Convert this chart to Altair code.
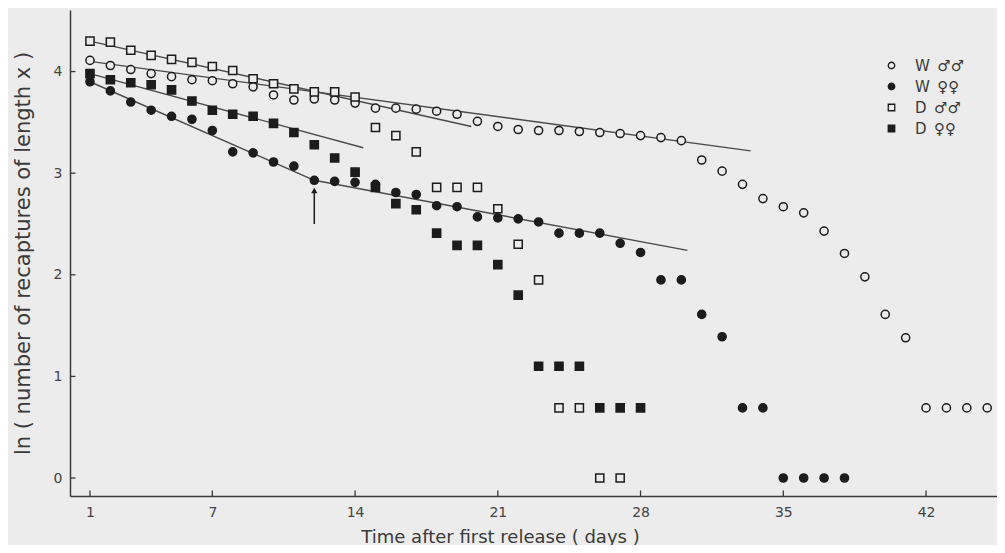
import altair as alt
import pandas as pd

# ---- data: ln(number of recaptures) by day ----
wm_days = list(range(1, 46))
wm_vals = [4.11, 4.06, 4.02, 3.98, 3.95, 3.92, 3.91, 3.88, 3.85, 3.77,
           3.72, 3.73, 3.72, 3.69, 3.64, 3.64, 3.63, 3.61, 3.58, 3.51,
           3.46, 3.43, 3.42, 3.42, 3.41, 3.40, 3.39, 3.37, 3.35, 3.32,
           3.13, 3.02, 2.89, 2.75, 2.67, 2.61, 2.43, 2.21, 1.98, 1.61,
           1.38, 0.69, 0.69, 0.69, 0.69]

wf_days = list(range(1, 39))
wf_vals = [3.90, 3.81, 3.70, 3.62, 3.56, 3.53, 3.42, 3.21, 3.20, 3.11,
           3.07, 2.93, 2.92, 2.91, 2.89, 2.81, 2.79, 2.68, 2.67, 2.57,
           2.56, 2.55, 2.52, 2.41, 2.41, 2.41, 2.31, 2.22, 1.95, 1.95,
           1.61, 1.39, 0.69, 0.69, 0.0, 0.0, 0.0, 0.0]

dm_days = list(range(1, 28))
dm_vals = [4.30, 4.29, 4.21, 4.16, 4.12, 4.09, 4.05, 4.01, 3.93, 3.88,
           3.83, 3.80, 3.80, 3.75, 3.45, 3.37, 3.21, 2.86, 2.86, 2.86,
           2.65, 2.30, 1.95, 0.69, 0.69, 0.0, 0.0]

df_days = list(range(1, 29))
df_vals = [3.98, 3.92, 3.89, 3.87, 3.82, 3.71, 3.62, 3.58, 3.56, 3.49,
           3.40, 3.28, 3.15, 3.01, 2.86, 2.70, 2.64, 2.41, 2.29, 2.29,
           2.10, 1.80, 1.10, 1.10, 1.10, 0.69, 0.69, 0.69]

series_labels = ["W\u2002\u2642\u2642", "W\u2002\u2640\u2640",
                 "D\u2002\u2642\u2642", "D\u2002\u2640\u2640"]

# fitted straight lines (end points)
fit_group = ["Wm", "Wm", "Dm", "Dm", "Df", "Df", "Wf1", "Wf1", "Wf2", "Wf2"]
fit_day = [1, 33.4, 1, 19.7, 1, 14.4, 1, 12, 12, 30.3]
fit_val = [4.10, 3.22, 4.30, 3.46, 3.98, 3.25, 3.90, 2.93, 2.93, 2.24]

# arrow marking the change of slope
arrow_day = [12]
arrow_from = [2.50]
arrow_to = [2.83]

x_ticks = [1, 7, 14, 21, 28, 35, 42]
y_ticks = [0, 1, 2, 3, 4]

# ---- build tables ----
pts = pd.concat([
    pd.DataFrame({"day": wm_days, "v": wm_vals, "s": series_labels[0]}),
    pd.DataFrame({"day": wf_days, "v": wf_vals, "s": series_labels[1]}),
    pd.DataFrame({"day": dm_days, "v": dm_vals, "s": series_labels[2]}),
    pd.DataFrame({"day": df_days, "v": df_vals, "s": series_labels[3]}),
], ignore_index=True)
fits = pd.DataFrame({"g": fit_group, "day": fit_day, "v": fit_val})
arrow = pd.DataFrame({"day": arrow_day, "a": arrow_from, "b": arrow_to})
xt = pd.DataFrame({"t": x_ticks})
yt = pd.DataFrame({"t": y_ticks})

BG = "#ececec"
INK = "#1c1c1c"
AX = "#3a3a3a"
XMIN, XMAX = 0.02, 45.48
YMIN, YMAX = -0.177, 4.606

xs = alt.Scale(domain=[XMIN, XMAX], nice=False, zero=False)
ys = alt.Scale(domain=[YMIN, YMAX], nice=False, zero=False)

xaxis = alt.Axis(values=x_ticks, format="d", ticks=False, grid=False, labelPadding=9,
                 title="Time after first release ( days )", titlePadding=9,
                 titleX=430, titleAlign="center",
                 labelFontSize=14, titleFontSize=18)
yaxis = alt.Axis(values=y_ticks, format="d", ticks=False, grid=False, labelPadding=8,
                 title="ln ( number of recaptures of length x )", titlePadding=20,
                 labelFontSize=14, titleFontSize=21)

base_x = alt.X("day:Q", scale=xs, axis=xaxis)
base_y = alt.Y("v:Q", scale=ys, axis=yaxis)

leg = alt.Legend(title=None, orient="none", legendX=814, legendY=48,
                 symbolSize=42, symbolStrokeWidth=1.3,
                 labelFontSize=15, labelColor="#3a3a3a", labelOffset=16,
                 rowPadding=5, padding=0, labelFont="DejaVu Sans")

lines = alt.Chart(fits).mark_line(color="#4a4a4a", strokeWidth=1.4).encode(
    x=base_x, y=base_y, detail="g:N")

points = alt.Chart(pts).mark_point(filled=True, size=66, strokeWidth=1.5, opacity=1).encode(
    x=base_x, y=base_y,
    fill=alt.Fill("s:N", scale=alt.Scale(domain=series_labels, range=[BG, INK, BG, INK]),
                  legend=leg),
    stroke=alt.Stroke("s:N", scale=alt.Scale(domain=series_labels, range=[INK, INK, INK, INK]),
                      legend=leg),
    shape=alt.Shape("s:N", scale=alt.Scale(domain=series_labels,
                                           range=["circle", "circle", "square", "square"]),
                    legend=leg),
)

arrow_shaft = alt.Chart(arrow).mark_rule(color=INK, strokeWidth=1.5).encode(
    x=alt.X("day:Q", scale=xs), y=alt.Y("a:Q", scale=ys), y2="b:Q")
arrow_head = alt.Chart(arrow).mark_point(shape="triangle-up", filled=True, size=40,
                                         color=INK, opacity=1).encode(
    x=alt.X("day:Q", scale=xs), y=alt.Y("b:Q", scale=ys))

xtick_marks = alt.Chart(xt).mark_rule(color=AX, strokeWidth=1.3).encode(
    x=alt.X("t:Q", scale=xs), y=alt.datum(YMIN), y2=alt.datum(YMIN + 0.055))
ytick_marks = alt.Chart(yt).mark_rule(color=AX, strokeWidth=1.3).encode(
    y=alt.Y("t:Q", scale=ys), x=alt.datum(XMIN), x2=alt.datum(XMIN + 0.27))

chart = alt.layer(lines, points, arrow_shaft, arrow_head, xtick_marks, ytick_marks).properties(
    width=927, height=486,
    autosize=alt.AutoSizeParams(type="none"),
    padding={"left": 62, "top": 2, "right": 0, "bottom": 49},
    background=BG,
).configure_view(stroke=None).configure_axis(
    domainColor=AX, domainWidth=1.5, labelColor="#444444", titleColor="#3a3a3a",
    labelFont="DejaVu Sans", titleFont="DejaVu Sans", titleFontWeight="normal",
)

chart.save("out.html", embed_options={"renderer": "svg", "actions": False})
